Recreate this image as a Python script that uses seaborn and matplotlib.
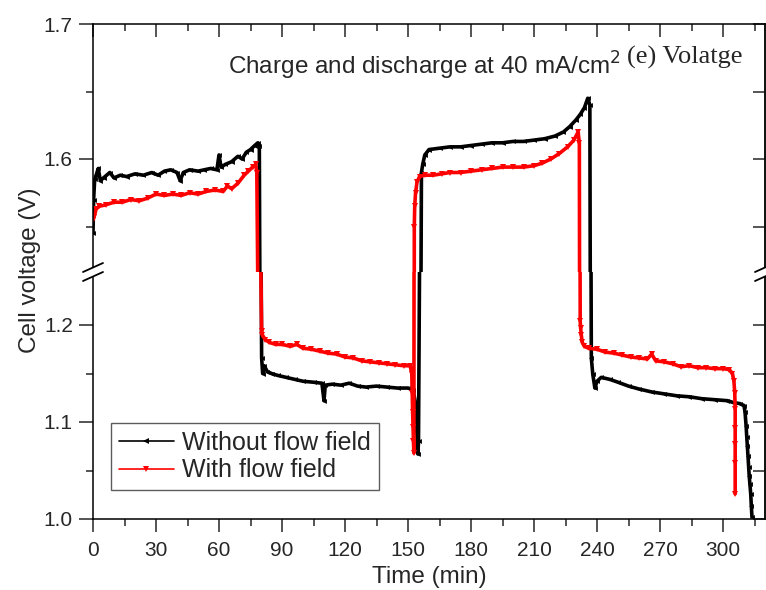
import matplotlib

matplotlib.use("Agg")

import matplotlib.pyplot as plt
import seaborn as sns
from matplotlib.lines import Line2D
from matplotlib.patches import Polygon
from matplotlib.ticker import FixedLocator

# "Without flow field" (black)
t_without = [
    0, 0.3, 0.8, 1.5, 2.5, 3.5, 5, 8, 10, 13, 16, 20, 24, 28, 31, 34, 37, 40, 41.5, 43,
    46, 50, 53, 56, 59, 60, 61, 63, 66, 69, 71, 73, 75, 77, 78.5, 79.2,
    80.3, 80.8, 81.5, 83, 85, 88, 92, 96, 100, 105, 109, 110, 110.6, 114, 118, 122, 126,
    130, 135, 140, 145, 150, 152.5, 153.5, 154.2, 154.7, 155.0, 156.4, 157, 158, 160,
    165, 170, 175, 180, 185, 190, 195, 200, 205, 210, 215, 220, 224, 227, 230, 232, 234,
    235.6, 236.6, 237.3, 238, 239, 240, 242, 246, 250, 255, 260, 266, 272, 278, 284,
    290, 296, 302, 305, 308, 310, 310.5, 311, 311.3, 311.6, 311.9, 312.2, 312.5,
    312.8, 313.2, 313.5, 313.8,
]
v_without = [
    1.545, 1.570, 1.585, 1.588, 1.593, 1.584, 1.586, 1.590, 1.586, 1.588, 1.587, 1.589,
    1.588, 1.590, 1.588, 1.591, 1.592, 1.590, 1.584, 1.590, 1.592, 1.591, 1.592, 1.593,
    1.592, 1.603, 1.594, 1.596, 1.598, 1.602, 1.600, 1.605, 1.607, 1.610, 1.612, 1.610,
    1.166, 1.150, 1.158, 1.152, 1.150, 1.148, 1.146, 1.144, 1.142, 1.141, 1.140, 1.122,
    1.138, 1.139, 1.138, 1.140, 1.137, 1.136, 1.137, 1.136, 1.135, 1.135, 1.133, 1.120,
    1.090, 1.067, 1.080, 1.590, 1.596, 1.603, 1.607, 1.608, 1.609, 1.609, 1.610, 1.611,
    1.612, 1.612, 1.613, 1.613, 1.614, 1.615, 1.617, 1.620, 1.624, 1.629, 1.633, 1.638,
    1.645, 1.640, 1.166, 1.149, 1.135, 1.142, 1.146, 1.144, 1.141, 1.137, 1.134, 1.131,
    1.129, 1.127, 1.126, 1.124, 1.123, 1.122, 1.120, 1.119, 1.117, 1.110, 1.096, 1.085,
    1.075, 1.065, 1.054, 1.044, 1.036, 1.026, 1.013, 1.002,
]

# "With flow field" (red)
t_with = [
    0, 0.5, 1.5, 3, 6, 10, 14, 18, 22, 26, 30, 34, 38, 42, 46, 50, 54, 58, 62, 64, 66,
    69, 72, 74, 76, 77.5, 78.0,
    80.3, 80.6, 82, 84, 87, 90, 94, 97, 100, 104, 108, 112, 116, 120, 124, 128, 132, 136,
    140, 144, 148, 151, 151.8, 152.0, 152.2, 152.4, 152.6, 152.8,
    153.0, 153.2, 153.6, 154.3, 155.5, 158, 162, 166, 170, 175, 180, 185, 190, 195,
    200, 205, 210, 214, 218, 222, 226, 229, 231, 231.6,
    232.0, 232.2, 232.5, 233, 234, 236, 240, 244, 248, 252, 256, 260, 264, 266, 268,
    272, 276, 280, 284, 288, 292, 296, 300, 303, 304.5, 305.2, 305.6, 305.8, 305.8,
    305.8, 305.8, 305.8,
]
v_with = [
    1.555, 1.557, 1.563, 1.565, 1.566, 1.568, 1.568, 1.570, 1.569, 1.571, 1.574, 1.573,
    1.574, 1.573, 1.575, 1.574, 1.576, 1.577, 1.576, 1.580, 1.578, 1.582, 1.588, 1.591,
    1.594, 1.596, 1.590,
    1.194, 1.190, 1.185, 1.182, 1.180, 1.180, 1.178, 1.180, 1.176, 1.175, 1.173, 1.171,
    1.170, 1.167, 1.166, 1.163, 1.162, 1.161, 1.160, 1.159, 1.158, 1.158, 1.150, 1.130,
    1.110, 1.095, 1.080, 1.068,
    1.550, 1.565, 1.575, 1.583, 1.587, 1.588, 1.588, 1.589, 1.590, 1.590, 1.591, 1.592,
    1.593, 1.594, 1.594, 1.594, 1.595, 1.597, 1.600, 1.604, 1.609, 1.614, 1.620, 1.612,
    1.204, 1.197, 1.190, 1.182, 1.178, 1.176, 1.175, 1.172, 1.171, 1.169, 1.167, 1.166,
    1.165, 1.170, 1.163, 1.162, 1.160, 1.157, 1.158, 1.156, 1.156, 1.155, 1.155, 1.154,
    1.150, 1.142, 1.130, 1.113, 1.094, 1.077, 1.058, 1.026,
]

x_ticks = [0, 30, 60, 90, 120, 150, 180, 210, 240, 270, 300]
upper_ticks = [1.6, 1.7]
lower_ticks = [1.0, 1.1, 1.2]

sns.set_theme(style="ticks")
plt.rcParams["font.family"] = ["Liberation Sans", "DejaVu Sans"]
plt.rcParams["axes.linewidth"] = 1.1

W, H = 766, 590
fig = plt.figure(figsize=(W / 100, H / 100), dpi=100)
left, right = 93, 765
top_px, brk_px, bot_px = 24, 272, 519
ax_top = fig.add_axes([left / W, (H - brk_px) / H, (right - left) / W, (brk_px - top_px) / H])
ax_bot = fig.add_axes([left / W, (H - bot_px) / H, (right - left) / W, (bot_px - brk_px) / H])

for ax, lab in [(ax_top, False), (ax_bot, True)]:
    sns.lineplot(x=t_without, y=v_without, ax=ax, color="black", lw=2.6, marker="<",
                 markersize=3.5, markeredgewidth=0, estimator=None, sort=False,
                 label="Without flow field" if lab else None, legend=False)
    sns.lineplot(x=t_with, y=v_with, ax=ax, color="#ff0000", lw=2.6, marker="v",
                 markersize=4, markeredgewidth=0, estimator=None, sort=False,
                 label="With flow field" if lab else None, legend=False)
    ax.set_xlim(0, 320)
    ax.set_xlabel("")
    ax.set_ylabel("")
    for s in ax.spines.values():
        s.set_linewidth(1.1)
        s.set_color("black")

ax_top.set_ylim(1.7 - (brk_px - top_px) / 1350, 1.7)
ax_bot.set_ylim(1.0, 1.0 + (bot_px - brk_px) / 970)

ax_top.spines["bottom"].set_visible(False)
ax_bot.spines["top"].set_visible(False)

ax_top.xaxis.set_major_locator(FixedLocator(x_ticks))
ax_top.xaxis.set_minor_locator(FixedLocator([x + 15 for x in x_ticks]))
ax_bot.xaxis.set_major_locator(FixedLocator(x_ticks))
ax_bot.xaxis.set_minor_locator(FixedLocator([x + 15 for x in x_ticks]))
ax_top.yaxis.set_major_locator(FixedLocator(upper_ticks))
ax_top.yaxis.set_minor_locator(FixedLocator([1.55, 1.65]))
ax_bot.yaxis.set_major_locator(FixedLocator(lower_ticks))
ax_bot.yaxis.set_minor_locator(FixedLocator([1.05, 1.15]))

ax_top.set_yticklabels([f"{v:.1f}" for v in upper_ticks])
ax_bot.set_yticklabels([f"{v:.1f}" for v in lower_ticks])
ax_bot.set_xticklabels([str(v) for v in x_ticks])

# upper: ticks on top (in), left (out), right (in)
ax_top.tick_params(axis="x", which="both", bottom=False, top=True, labelbottom=False,
                   direction="in")
ax_top.tick_params(axis="x", which="major", length=9, width=1.1)
ax_top.tick_params(axis="x", which="minor", length=5, width=1.1)
for ax in (ax_top, ax_bot):
    ax.tick_params(axis="y", which="both", left=True, right=False, direction="out",
                   labelsize=15, pad=4.5)
    ax.tick_params(axis="y", which="major", length=10, width=1.1)
    ax.tick_params(axis="y", which="minor", length=5, width=1.1)
    sec = ax.secondary_yaxis("right")
    sec.yaxis.set_major_locator(FixedLocator(ax.yaxis.get_majorticklocs()))
    sec.yaxis.set_minor_locator(FixedLocator(ax.yaxis.get_minorticklocs()))
    sec.tick_params(axis="y", which="both", direction="in", labelright=False, width=1.1)
    sec.tick_params(axis="y", which="major", length=9)
    sec.tick_params(axis="y", which="minor", length=9)
    sec.spines["right"].set_linewidth(1.1)
ax_bot.tick_params(axis="x", which="both", bottom=True, top=False, direction="out",
                   labelsize=15, pad=7)
ax_bot.tick_params(axis="x", which="major", length=9, width=1.1)
ax_bot.tick_params(axis="x", which="minor", length=5, width=1.1)

# break marks on the left and right spines
for xs in (left, right):
    gap = Polygon([((xs - 10) / W, (H - 272) / H), ((xs + 10) / W, (H - 263) / H),
                   ((xs + 10) / W, (H - 272) / H), ((xs - 10) / W, (H - 281) / H)],
                  closed=True, transform=fig.transFigure, facecolor="white",
                  edgecolor="none", zorder=10)
    fig.add_artist(gap)
    for dy in (0, 9):
        fig.add_artist(Line2D([(xs - 10) / W, (xs + 10) / W],
                              [(H - 272 - dy) / H, (H - 263 - dy) / H],
                              transform=fig.transFigure, color="black", lw=1.3, zorder=11))

leg = ax_bot.legend(loc="upper left", bbox_to_anchor=(111 / W, (H - 423) / H),
                    bbox_transform=fig.transFigure, borderaxespad=0, fontsize=18,
                    frameon=True, fancybox=False, labelspacing=0.15, borderpad=0.3,
                    handlelength=2.2, handletextpad=0.35)
leg.get_frame().set_edgecolor("#333333")
leg.get_frame().set_linewidth(1.0)
for h in leg.legend_handles:
    h.set_linewidth(1.2)
    h.set_markersize(5)

fig.text(228 / W, (H - 75) / H, "Charge and discharge at 40 mA/cm$^2$", fontsize=17.5,
         va="baseline", ha="left")
fig.text(627 / W, (H - 64) / H, "(e) Volatge", fontsize=19, va="baseline", ha="left",
         family=["Liberation Serif", "DejaVu Serif"])
fig.text(30 / W, (H - 270) / H, "Cell voltage (V)", fontsize=17.5, rotation=90,
         va="center", ha="center")
fig.text(429 / W, (H - 577) / H, "Time (min)", fontsize=17.5, va="center", ha="center")

fig.savefig("out.png", dpi=100)
plt.close(fig)
